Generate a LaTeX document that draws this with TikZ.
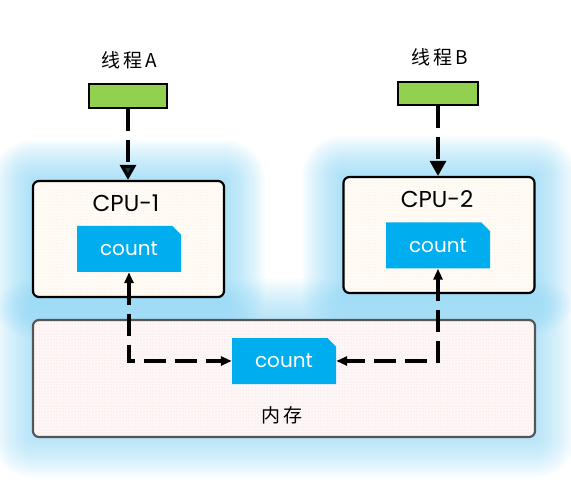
\documentclass[tikz,border=0pt]{standalone}
\usepackage{fontspec}
\setmainfont{Poppins}
\newfontfamily\cjk{Noto Sans CJK SC}
\usetikzlibrary{arrows.meta,shapes.misc,patterns}
\definecolor{glowc}{RGB}{120,205,242}
\definecolor{cblue}{RGB}{0,174,239}
\definecolor{gfill}{RGB}{146,208,80}
\definecolor{memfill}{RGB}{253,247,247}
\definecolor{cpufill}{RGB}{255,252,247}
\definecolor{memline}{RGB}{85,85,85}
\definecolor{navytip}{RGB}{22,58,78}
\tikzset{
  cpubox/.style={draw=black, line width=2.2pt, rounded corners=6pt, preaction={fill=cpufill}, pattern=dots, pattern color=orange!22, minimum width=191pt, minimum height=116pt, inner sep=0pt},
  membox/.style={draw=memline, line width=2.2pt, rounded corners=6pt, preaction={fill=memfill}, pattern=dots, pattern color=red!18, minimum width=502pt, minimum height=117pt, inner sep=0pt},
  countbox/.style={chamfered rectangle, chamfered rectangle corners=north east, chamfered rectangle xsep=5pt, fill=cblue, text=white, font=\fontsize{20}{22}\selectfont, minimum width=104pt, minimum height=46pt, inner sep=0pt},
  greenbox/.style={draw=black, line width=2pt, fill=gfill, minimum width=78pt, minimum height=24pt, inner sep=0pt},
  cpulabel/.style={font=\fontsize{23}{25}\selectfont, inner sep=0pt},
  cjklabel/.style={font=\cjk\fontsize{19}{22}\selectfont, inner sep=0pt},
  dasharrow/.style={line width=3.2pt, dash pattern=on 22pt off 9pt, black},
  bigtip/.tip={Triangle[width=16pt,length=15pt]},
  smalltip/.tip={Triangle[width=9pt,length=11pt]}
}
\begin{document}
\begin{tikzpicture}[x=1pt,y=-1pt]
\useasboundingbox (0,0) rectangle (571,484);
% glow
\foreach \e in {1,3,...,41} {
  \fill[glowc, opacity=0.045, rounded corners=\e pt] (33-\e,181-\e) rectangle (224+\e,297+\e);
  \fill[glowc, opacity=0.045, rounded corners=\e pt] (343-\e,177-\e) rectangle (535+\e,293+\e);
  \fill[glowc, opacity=0.035, rounded corners=\e pt] (33-\e,320-\e) rectangle (535+\e,437+\e);
}
% boxes
\node[cpubox] (cpu1) at (128.5,239) {};
\node[cpubox] (cpu2) at (439,235) {};
\node[membox] (mem) at (284,378.5) {};
\node[cpulabel] (l1) at (126,203) {CPU-1};
\node[cpulabel] (l2) at (437,199) {CPU-2};
\node[countbox] (c1) at (129,249) {count};
\node[countbox] (c2) at (438,245.5) {count};
\node[countbox] (cm) at (284,361) {count};
\node[cjklabel] (ml) at (282,415) {内\kern4pt 存};
% threads
\node[cjklabel] (ta) at (129,60) {线\kern3pt 程\kern3pt A};
\node[cjklabel] (tb) at (440,57) {线\kern3pt 程\kern3pt B};
\node[greenbox] (ga) at (128,96) {};
\node[greenbox, minimum width=80pt, minimum height=23pt] (gb) at (438,93.5) {};
% connectors
\draw[dasharrow, -{Triangle[width=16pt,length=15pt,fill=navytip]}] (ga.south) -- (ga.south |- cpu1.north);
\draw[dasharrow, -bigtip] (gb.south) -- (gb.south |- cpu2.north);
\draw[dasharrow, smalltip-smalltip] (c1.south) |- (cm.west);
\draw[dasharrow, smalltip-smalltip] (c2.south) |- (cm.east);
\end{tikzpicture}
\end{document}
